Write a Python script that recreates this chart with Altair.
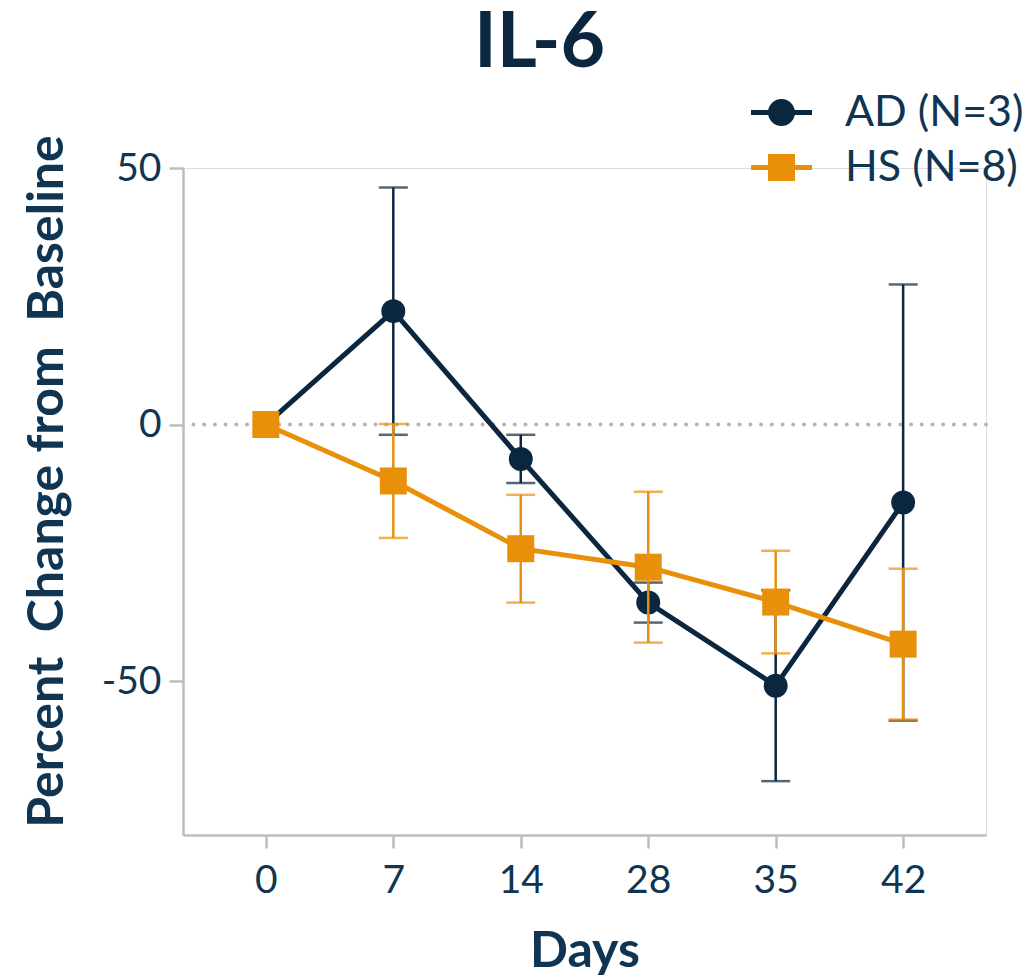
import altair as alt
import pandas as pd

# ---- data ----
days = ["0", "7", "14", "28", "35", "42"]
groups = ["AD (N=3)", "HS (N=8)"]
ad_mean = [0.0, 22.1, -6.7, -34.7, -50.9, -15.2]
ad_err = [0.0, 24.1, 4.7, 3.9, 18.6, 42.5]
hs_mean = [0.0, -11.0, -24.2, -27.8, -34.6, -42.8]
hs_err = [0.0, 11.1, 10.5, 14.7, 10.0, 14.7]
y_ticks = [-50, 0, 50]
colors = ["#0b2740", "#e8900a"]

TEXT = "#0f3553"
GREY = "#bdbdbd"
FONT = "Lato"

rows = []
for g, means, errs in [(groups[0], ad_mean, ad_err), (groups[1], hs_mean, hs_err)]:
    for d, m, e in zip(days, means, errs):
        rows.append({"day": d, "group": g, "mean": m, "lo": m - e, "hi": m + e, "err": e})
df = pd.DataFrame(rows)
zero_df = pd.DataFrame({"ref": [0.0]})

x_axis = alt.Axis(
    title="Days", labelAngle=0, labelFont=FONT, labelFontSize=39, labelColor=TEXT,
    labelPadding=13, tickSize=13, tickWidth=2.5, tickColor=GREY,
    domainColor=GREY, domainWidth=2.5, titleFont=FONT, titleFontSize=50,
    titleFontWeight="bold", titleColor=TEXT, titlePadding=26, grid=False,
)
y_axis = alt.Axis(
    title="Percent\u00a0 Change from\u00a0 Baseline", values=y_ticks,
    labelExpr="'' + datum.value", labelFont=FONT,
    labelFontSize=39, labelColor=TEXT, labelPadding=8, tickSize=14, tickWidth=2.5,
    tickColor=GREY, domainColor=GREY, domainWidth=2.5, titleFont=FONT,
    titleFontSize=50, titleFontWeight="bold", titleColor=TEXT, titlePadding=29,
    titleY=313, grid=False,
)
x_scale = alt.Scale(type="point", padding=0.65)
y_scale = alt.Scale(domain=[-80, 50], nice=False, zero=False)


def xe():
    return alt.X("day:O", sort=days, scale=x_scale, axis=x_axis)


def ye(field):
    return alt.Y(field, scale=y_scale, axis=y_axis)


zero_line = alt.Chart(zero_df).mark_rule(
    color="#b5b5b5", strokeWidth=4, strokeDash=[0.01, 10.7], strokeCap="round"
).encode(y=ye("ref:Q"))

layers = [zero_line]
for g, col, shape, size in [(groups[0], colors[0], "circle", 573), (groups[1], colors[1], "square", 729)]:
    base = alt.Chart(df).transform_filter(alt.datum.group == g)
    eb = base.transform_filter(alt.datum.err > 0)
    layers.append(eb.mark_rule(color=col, strokeWidth=2.5).encode(x=xe(), y=ye("lo:Q"), y2="hi:Q"))
    layers.append(eb.mark_tick(color=col, size=29, thickness=2.5, orient="horizontal").encode(x=xe(), y=ye("lo:Q")))
    layers.append(eb.mark_tick(color=col, size=29, thickness=2.5, orient="horizontal").encode(x=xe(), y=ye("hi:Q")))
    layers.append(base.mark_line(color=col, strokeWidth=5).encode(x=xe(), y=ye("mean:Q")))
    layers.append(base.mark_point(color=col, filled=True, opacity=1, shape=shape, size=size).encode(x=xe(), y=ye("mean:Q")))

# legend symbols: a line with the marker on it
path_ad = ("M-1,-0.082H1V0.082H-1Z "
           "M0.443,0A0.443,0.443 0 1 1 -0.443,0A0.443,0.443 0 1 1 0.443,0Z")
path_hs = ("M-1,-0.082H1V0.082H-1Z "
           "M-0.443,-0.443H0.443V0.443H-0.443Z")

legend = alt.Legend(
    title=None, orient="none", legendX=568, legendY=-86, labelFont=FONT,
    labelFontSize=43, labelColor=TEXT, labelLimit=400, symbolSize=3721,
    symbolStrokeWidth=0, symbolOpacity=1, labelOffset=33, rowPadding=2, padding=0,
)
legend_layer = alt.Chart(df).transform_filter(alt.datum.err < -1).mark_point(
    filled=True, opacity=0
).encode(
    x=xe(), y=ye("mean:Q"),
    color=alt.Color("group:N", scale=alt.Scale(domain=groups, range=colors), legend=legend),
    shape=alt.Shape("group:N", scale=alt.Scale(domain=groups, range=[path_ad, path_hs]), legend=legend),
)
layers.append(legend_layer)

chart = alt.layer(*layers).properties(
    width=803, height=667,
    title=alt.TitleParams("IL-6", font=FONT, fontSize=77, fontWeight="bold", color="#0b2740",
                          anchor="middle", frame="group", dx=-45, offset=-62,
                          baseline="alphabetic"),
    padding={"left": 183, "top": 168, "right": 40, "bottom": 145},
    autosize=alt.AutoSizeParams(type="none"),
).configure_view(stroke=None).configure(background="white")

chart.save("out.html", embed_options={"renderer": "svg", "actions": False})
